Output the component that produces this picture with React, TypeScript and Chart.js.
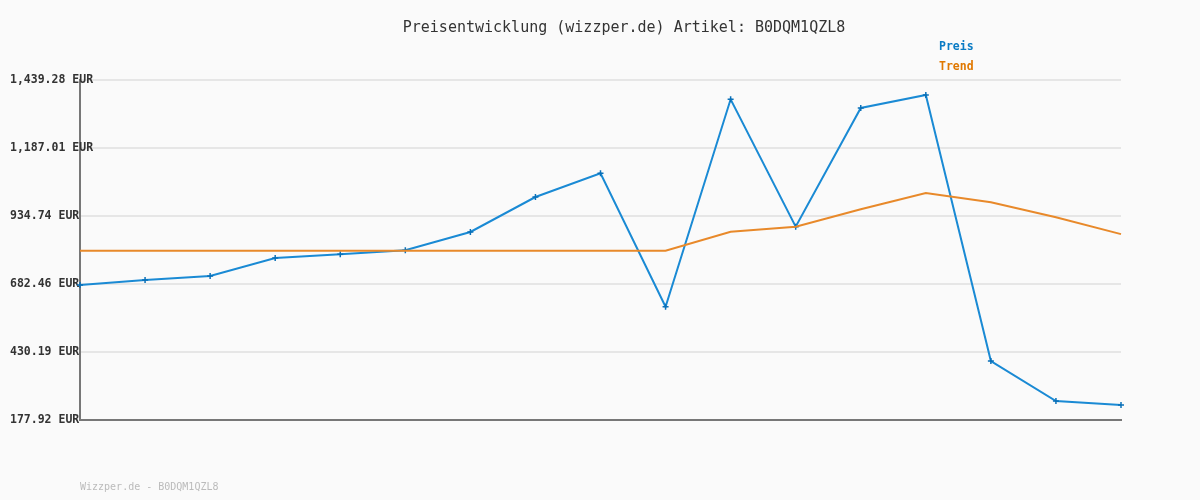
import React, { useEffect, useRef } from "react";
import { Chart, registerables } from "chart.js";

Chart.register(...registerables);

const labels = ["1","2","3","4","5","6","7","8","9","10","11","12","13","14","15","16","17"];
const preis = [678.8, 697.3, 712.1, 778.9, 793.1, 808.0, 875.4, 1005.2, 1093.1, 598.0, 1367.7, 895.0, 1335.4, 1383.6, 396.8, 248.4, 233.6];
const trend = [805.8, 805.8, 805.8, 805.8, 805.8, 805.8, 805.8, 805.8, 805.8, 805.8, 876.6, 895.1, 959.6, 1020.0, 985.7, 930.0, 867.4];
const yTicks = [177.92, 430.19, 682.46, 934.74, 1187.01, 1439.28];
const titleText = "Preisentwicklung (wizzper.de) Artikel: B0DQM1QZL8";
const footerText = "Wizzper.de - B0DQM1QZL8";
const legendItems = [
  { label: "Preis", color: "#0a7bc4" },
  { label: "Trend", color: "#e07800" },
];

const FONT = "'DejaVu Sans Mono', monospace";

const fmt = (v: number) =>
  v.toLocaleString("en-US", { minimumFractionDigits: 2, maximumFractionDigits: 2 }) + " EUR";

const decor = {
  id: "decor",
  beforeDraw(chart: any) {
    const ctx = chart.ctx;
    ctx.save();
    ctx.fillStyle = "#fafafa";
    ctx.fillRect(0, 0, chart.width, chart.height);
    ctx.restore();
  },
  afterDraw(chart: any) {
    const ctx = chart.ctx;
    ctx.save();
    ctx.textBaseline = "middle";
    ctx.textAlign = "center";
    ctx.fillStyle = "#333";
    ctx.font = `15px ${FONT}`;
    ctx.fillText(titleText, 624, 28);
    ctx.textAlign = "left";
    ctx.font = `bold 11.5px ${FONT}`;
    legendItems.forEach((it, i) => {
      ctx.fillStyle = it.color;
      ctx.fillText(it.label, 939, 47 + i * 20.5);
    });
    ctx.font = `10px ${FONT}`;
    ctx.fillStyle = "#bbbbbb";
    ctx.fillText(footerText, 80, 487);
    ctx.restore();
  },
};

export default function App() {
  const ref = useRef<HTMLCanvasElement>(null);
  useEffect(() => {
    if (!ref.current) return;
    const chart = new Chart(ref.current, {
      type: "line",
      data: {
        labels,
        datasets: [
          {
            label: "Trend",
            data: trend,
            borderColor: "#e8892a",
            borderWidth: 2,
            pointRadius: 0,
            tension: 0,
            order: 1,
          },
          {
            label: "Preis",
            data: preis,
            borderColor: "#1a8ad4",
            backgroundColor: "#0a70b8",
            borderWidth: 2,
            pointRadius: 3,
            pointBorderWidth: 1.5,
            pointBorderColor: "#0a70b8",
            pointStyle: "cross",
            tension: 0,
            order: 2,
          },
        ],
      },
      options: {
        animation: false,
        responsive: false,
        layout: { padding: { left: 0, top: 80, right: 79, bottom: 80 } },
        plugins: { legend: { display: false }, title: { display: false }, tooltip: { enabled: false } },
        scales: {
          x: {
            offset: false,
            ticks: { display: false },
            grid: { display: false },
            border: { display: true, color: "#777", width: 2 },
            afterFit: (s: any) => { s.height = 0; },
          },
          y: {
            min: yTicks[0],
            max: yTicks[yTicks.length - 1],
            afterBuildTicks: (s: any) => { s.ticks = yTicks.map((v) => ({ value: v })); },
            afterFit: (s: any) => { s.width = 80; },
            ticks: {
              mirror: true,
              padding: -70,
              crossAlign: "near",
              color: "#333",
              font: { family: FONT, size: 11.5, weight: "bold" },
              callback: (v: any) => fmt(Number(v)),
              autoSkip: false,
            },
            grid: { color: "#e6e6e6", lineWidth: 2, drawTicks: false },
            border: { display: true, color: "#777", width: 2 },
          },
        },
      },
      plugins: [decor],
    });
    return () => chart.destroy();
  }, []);
  return (
    <div style={{ position: "fixed", left: 0, top: 0, width: 1200, height: 500, background: "#fafafa" }}>
      <canvas ref={ref} width={1200} height={500} />
    </div>
  );
}
